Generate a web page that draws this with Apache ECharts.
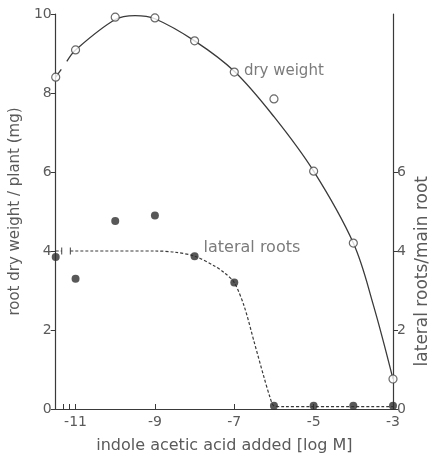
<!DOCTYPE html>
<html>
<head>
<meta charset="utf-8">
<script src="https://cdn.jsdelivr.net/npm/echarts@6/dist/echarts.min.js"></script>
<style>
  html, body { margin: 0; padding: 0; background: #fff; }
  #chart { width: 433px; height: 460px; }
</style>
</head>
<body>
<div id="chart"></div>
<script>
// measured points (x = log M, control plotted at -11.5)
const dryWeight = [[-11.5, 8.4], [-11, 9.09], [-10, 9.92], [-9, 9.9], [-8, 9.32], [-7, 8.53], [-6, 7.85], [-5, 6.02], [-4, 4.2], [-3, 0.76]]
const lateralRoots = [[-11.5, 3.85], [-11, 3.3], [-10, 4.76], [-9, 4.9], [-8, 3.87], [-7, 3.2], [-6, 0.08], [-5, 0.08], [-4, 0.08], [-3, 0.08]]

// hand-drawn fitted curves
const dryCtrlFit = [[-11.5, 8.4], [-11.36, 8.6]]
const dryFit = [[-11.22, 8.8], [-11, 9.09], [-10, 9.86], [-9.5, 9.96], [-9, 9.88], [-8, 9.32], [-7, 8.55], [-6, 7.4], [-5, 6.02], [-4, 4.2], [-3.5, 2.65], [-3, 0.76]]
const lateralCtrlFit = [[-11.5, 4.0], [-11.35, 4.0]]
const lateralFit = [[-11.13, 4.0], [-9, 4.0], [-8.5, 3.97], [-8, 3.87], [-7.5, 3.62], [-7.25, 3.45], [-7, 3.2], [-6.75, 2.6], [-6.5, 1.7], [-6.25, 0.8], [-6.1, 0.3], [-6, 0.08], [-5.75, 0.06], [-5, 0.06], [-3, 0.06]]
const breakMarks = [[-11.35, 4.0], [-11.13, 4.0]]

const xLabels = [-11, -9, -7, -5, -3]
const xBreakTicks = [-11.32, -11.15]
const rightLabels = [0, 2, 4, 6]

const ink = '#3a3a3a'
const textColor = '#5a5a5a'
const font = 'DejaVu Sans'

const chart = echarts.init(document.getElementById('chart'))

chart.setOption({
  animation: false,
  textStyle: { fontFamily: font },
  grid: { left: 53, right: 40, top: 14, bottom: 51 },
  xAxis: {
    type: 'value',
    min: -11.5,
    max: -3,
    name: 'indole acetic acid added [log M]',
    nameLocation: 'middle',
    nameGap: 29,
    nameTextStyle: { color: textColor, fontSize: 16, fontFamily: font },
    splitLine: { show: false },
    axisLine: { lineStyle: { color: ink, width: 1.2 } },
    axisTick: { inside: true, length: 5, customValues: xBreakTicks.concat(xLabels), lineStyle: { color: ink } },
    axisLabel: { customValues: xLabels, color: textColor, fontSize: 14, margin: 6 }
  },
  yAxis: [{
    type: 'value',
    min: 0,
    max: 10,
    interval: 2,
    name: 'root dry weight / plant (mg)',
    nameLocation: 'middle',
    nameGap: 30,
    nameTextStyle: { color: textColor, fontSize: 15, fontFamily: font },
    splitLine: { show: false },
    axisLine: { show: true, lineStyle: { color: ink, width: 1.2 } },
    axisTick: { show: true, length: 5, lineStyle: { color: ink } },
    axisLabel: { color: textColor, fontSize: 14, margin: 4 }
  }, {
    type: 'value',
    position: 'right',
    min: 0,
    max: 10,
    splitLine: { show: false },
    axisLine: { show: true, lineStyle: { color: ink, width: 1.2 } },
    axisTick: { show: true, length: 5, customValues: rightLabels, lineStyle: { color: ink } },
    axisLabel: { customValues: rightLabels, color: textColor, fontSize: 14, margin: 4 }
  }],
  graphic: [{
    type: 'text',
    left: 414,
    top: 176,
    rotation: Math.PI / 2,
    style: { text: 'lateral roots/main root', fill: textColor, fontSize: 17, fontFamily: font }
  }],
  series: [{
    type: 'line',
    data: dryCtrlFit,
    showSymbol: false,
    lineStyle: { color: ink, width: 1.3 }
  }, {
    type: 'line',
    data: dryFit,
    smooth: 0.35,
    showSymbol: false,
    lineStyle: { color: ink, width: 1.3 }
  }, {
    type: 'line',
    data: lateralCtrlFit,
    showSymbol: false,
    lineStyle: { color: ink, width: 1.2, type: [3, 2] }
  }, {
    type: 'line',
    data: lateralFit,
    smooth: 0.3,
    showSymbol: false,
    lineStyle: { color: ink, width: 1.2, type: [3, 2] }
  }, {
    type: 'scatter',
    data: breakMarks,
    symbol: 'rect',
    symbolSize: [1.2, 7],
    itemStyle: { color: ink }
  }, {
    type: 'scatter',
    yAxisIndex: 1,
    data: lateralRoots.map((p, i) => i === 4
      ? { value: p, label: { show: true, position: 'right', offset: [0, -8], formatter: 'lateral roots', color: textColor, fontSize: 16, fontFamily: font } }
      : p),
    symbol: 'circle',
    symbolSize: 8,
    itemStyle: { color: '#2e2e2e' },
    z: 5
  }, {
    type: 'scatter',
    data: dryWeight.map((p, i) => i === 5
      ? { value: p, label: { show: true, position: 'right', offset: [0, -1], formatter: 'dry weight', color: textColor, fontSize: 15, fontFamily: font } }
      : p),
    symbol: 'circle',
    symbolSize: 8,
    itemStyle: { color: '#fff', borderColor: '#444', borderWidth: 1.2 },
    z: 5
  }]
})
</script>
</body>
</html>
